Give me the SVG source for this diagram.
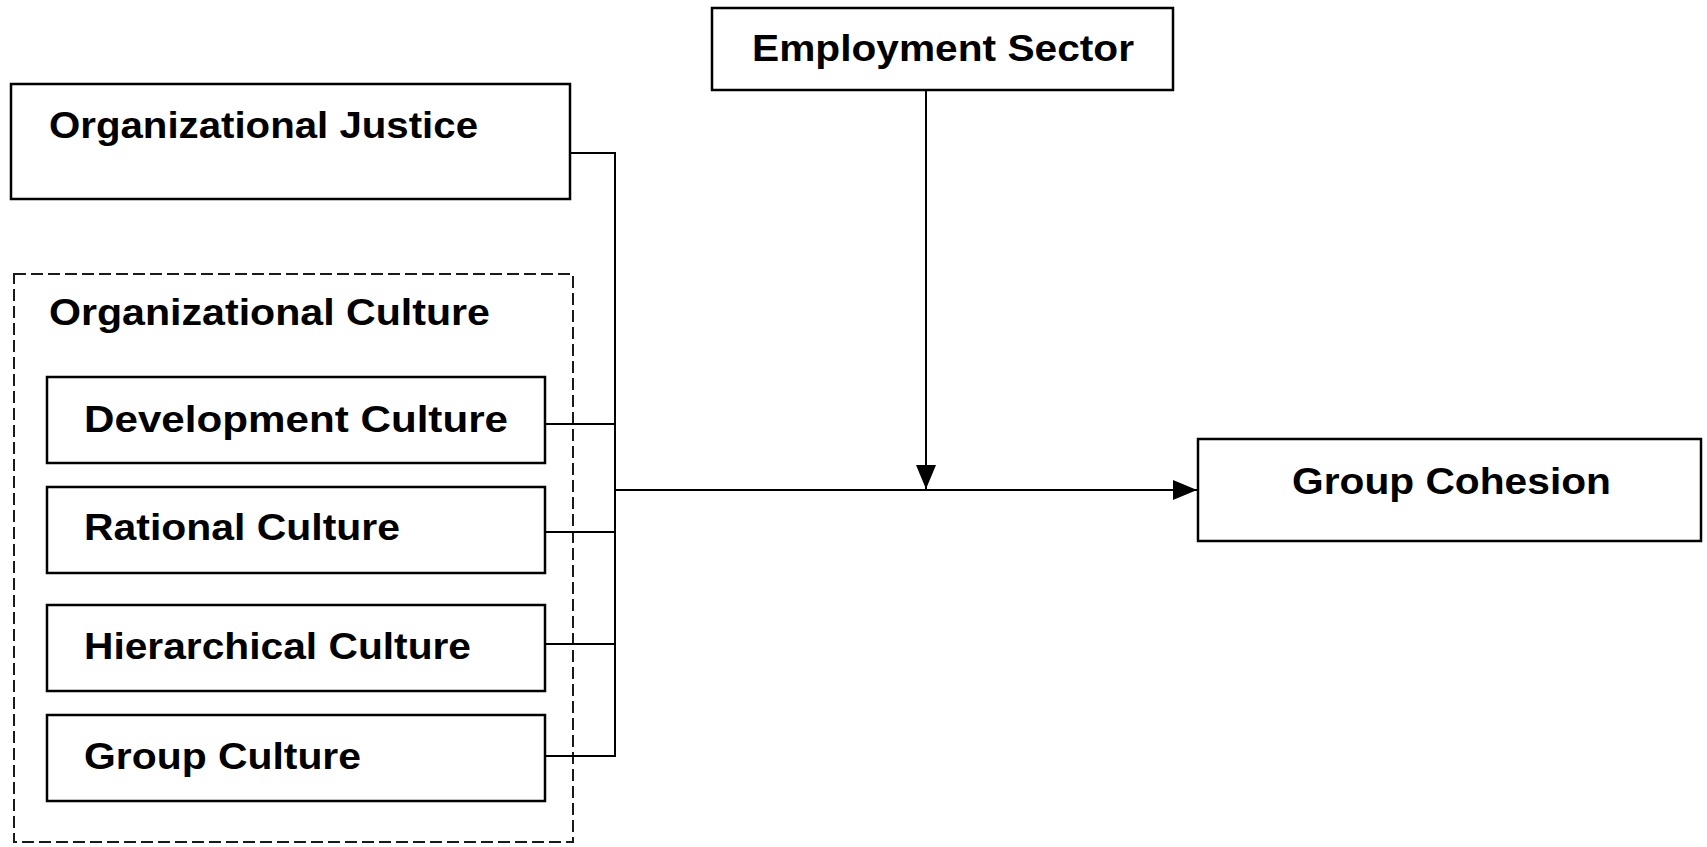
<svg xmlns="http://www.w3.org/2000/svg" width="1707" height="847" viewBox="0 0 1707 847">
  <style>
    .box { fill: #fff; stroke: #000; stroke-width: 2.5; }
    .group { fill: none; stroke: #1a1a1a; stroke-width: 2; stroke-dasharray: 12 5; }
    .lbl { font-family: "Liberation Sans", Arial, sans-serif; font-weight: bold; font-size: 36px; fill: #000; }
    .wire { fill: none; stroke: #000; stroke-width: 2; }
  </style>
  <defs>
    <marker id="arrowR" markerUnits="userSpaceOnUse" markerWidth="24" markerHeight="22" refX="24" refY="11" orient="auto">
      <path d="M0,1 L24,11 L0,21 Z" fill="#000"/>
    </marker>
  </defs>
  <rect width="1707" height="847" fill="#fff"/>

  <!-- Organizational Culture grouping -->
  <g id="org-culture">
    <rect class="group" x="14" y="274" width="559" height="568"/>
    <text class="lbl" x="49" y="325" textLength="441" lengthAdjust="spacingAndGlyphs">Organizational Culture</text>
  </g>

  <g id="org-justice">
    <rect class="box" x="11" y="84" width="559" height="115"/>
    <text class="lbl" x="49" y="138" textLength="429" lengthAdjust="spacingAndGlyphs">Organizational Justice</text>
  </g>

  <g id="development-culture">
    <rect class="box" x="47" y="377" width="498" height="86"/>
    <text class="lbl" x="84" y="432" textLength="424" lengthAdjust="spacingAndGlyphs">Development Culture</text>
  </g>

  <g id="rational-culture">
    <rect class="box" x="47" y="487" width="498" height="86"/>
    <text class="lbl" x="84" y="540" textLength="316" lengthAdjust="spacingAndGlyphs">Rational Culture</text>
  </g>

  <g id="hierarchical-culture">
    <rect class="box" x="47" y="605" width="498" height="86"/>
    <text class="lbl" x="84" y="659" textLength="387" lengthAdjust="spacingAndGlyphs">Hierarchical Culture</text>
  </g>

  <g id="group-culture">
    <rect class="box" x="47" y="715" width="498" height="86"/>
    <text class="lbl" x="84" y="769" textLength="277" lengthAdjust="spacingAndGlyphs">Group Culture</text>
  </g>

  <g id="employment-sector">
    <rect class="box" x="712" y="8" width="461" height="82"/>
    <text class="lbl" x="752" y="61" textLength="382" lengthAdjust="spacingAndGlyphs">Employment Sector</text>
  </g>

  <g id="group-cohesion">
    <rect class="box" x="1198" y="439" width="503" height="102"/>
    <text class="lbl" x="1292" y="494" textLength="319" lengthAdjust="spacingAndGlyphs">Group Cohesion</text>
  </g>

  <!-- connectors -->
  <g id="connectors">
    <path class="wire" d="M570,153 H615 V756 H545"/>
    <path class="wire" d="M545,424 H615"/>
    <path class="wire" d="M545,532 H615"/>
    <path class="wire" d="M545,644 H615"/>
    <path class="wire" d="M615,490 H1197" marker-end="url(#arrowR)"/>
    <path class="wire" d="M926,90 V489" marker-end="url(#arrowR)"/>
  </g>
</svg>
